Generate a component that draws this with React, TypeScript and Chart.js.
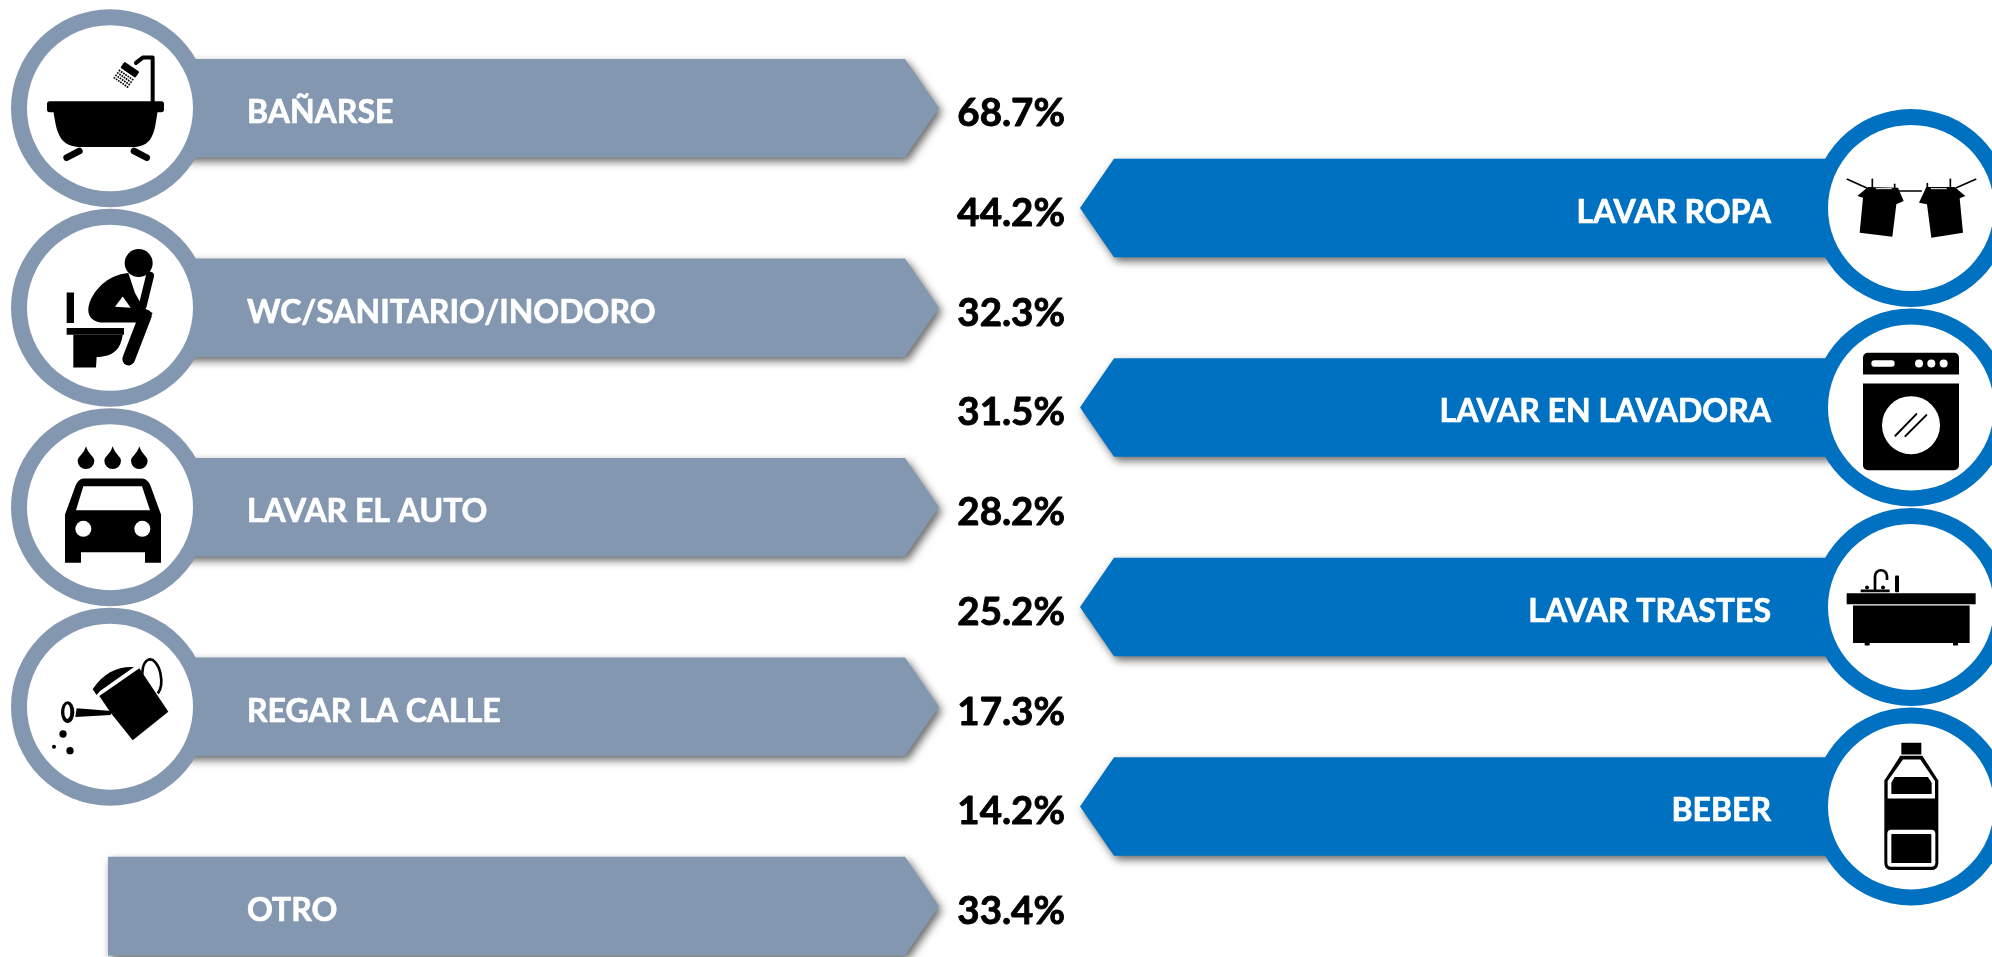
import React, { useEffect, useRef } from "react";
import { Chart, registerables } from "chart.js";

Chart.register(...registerables);

const categories = ["BAÑARSE", "LAVAR ROPA", "WC/SANITARIO/INODORO", "LAVAR EN LAVADORA", "LAVAR EL AUTO", "LAVAR TRASTES", "REGAR LA CALLE", "BEBER", "OTRO"];
const percentages = ["68.7%", "44.2%", "32.3%", "31.5%", "28.2%", "25.2%", "17.3%", "14.2%", "33.4%"];
const sides = ["left", "right", "left", "right", "left", "right", "left", "right", "left"];
const icons = ["tub", "clothes", "toilet", "washer", "car", "sink", "can", "bottle", ""];

const LEFT_SPAN = [108, 939];
const RIGHT_SPAN = [1080, 1911];
const GREY = "#8497B0";
const BLUE = "#0070C0";
const FONT = "Lato, 'Noto Sans', sans-serif";

type Ctx = CanvasRenderingContext2D;

function poly(ctx: Ctx, pts: number[][], color = "#000") {
  ctx.fillStyle = color;
  ctx.beginPath();
  pts.forEach((p, i) => (i ? ctx.lineTo(p[0], p[1]) : ctx.moveTo(p[0], p[1])));
  ctx.closePath();
  ctx.fill();
}
function line(ctx: Ctx, pts: number[][], w: number, color = "#000") {
  ctx.strokeStyle = color;
  ctx.lineWidth = w;
  ctx.lineCap = "round";
  ctx.lineJoin = "round";
  ctx.beginPath();
  pts.forEach((p, i) => (i ? ctx.lineTo(p[0], p[1]) : ctx.moveTo(p[0], p[1])));
  ctx.stroke();
}
function disc(ctx: Ctx, x: number, y: number, r: number, color = "#000") {
  ctx.fillStyle = color;
  ctx.beginPath();
  ctx.arc(x, y, r, 0, Math.PI * 2);
  ctx.fill();
}
function rrect(ctx: Ctx, x: number, y: number, w: number, h: number, r: number | number[], color = "#000") {
  ctx.fillStyle = color;
  ctx.beginPath();
  ctx.roundRect(x, y, w, h, r);
  ctx.fill();
}
function drop(ctx: Ctx, x: number, top: number, r: number) {
  ctx.fillStyle = "#000";
  ctx.beginPath();
  ctx.moveTo(x, top);
  ctx.bezierCurveTo(x + r * 0.3, top + r, x + r, top + r * 1.2, x + r, top + r * 1.75);
  ctx.arc(x, top + r * 1.75, r, 0, Math.PI);
  ctx.bezierCurveTo(x - r, top + r * 1.2, x - r * 0.3, top + r, x, top);
  ctx.fill();
}

// Icon artwork, each in a 3x local space with its own origin (ox, oy).
const iconArt: Record<string, { ox: number; oy: number; draw: (c: Ctx) => void }> = {
  tub: {
    ox: 330, oy: 328,
    draw(c) {
      rrect(c, 141, 307, 351, 33, 8);
      c.fillStyle = "#000";
      c.beginPath();
      c.moveTo(160, 335);
      c.bezierCurveTo(168, 390, 175, 442, 235, 444);
      c.lineTo(405, 444);
      c.bezierCurveTo(462, 442, 465, 390, 473, 335);
      c.closePath();
      c.fill();
      line(c, [[238, 456], [200, 476]], 20);
      line(c, [[402, 456], [440, 476]], 20);
      line(c, [[458, 310], [458, 176], [428, 176], [408, 192]], 12);
      c.lineCap = "butt";
      c.save();
      c.translate(388, 215);
      c.rotate(Math.PI / 5.2);
      rrect(c, -27, -14, 54, 22, 3);
      for (let i = -3; i <= 3; i++) {
        for (let j = 0; j < 4; j++) {
          c.fillStyle = "#000";
          c.fillRect(i * 8 - 3, 14 + j * 9, 5, 5);
        }
      }
      c.restore();
    },
  },
  toilet: {
    ox: 330, oy: 924,
    draw(c) {
      disc(c, 416, 790, 42);
      rrect(c, 200, 878, 22, 92, 1);
      rrect(c, 200, 985, 172, 20, 1);
      c.fillStyle = "#000";
      c.beginPath();
      c.moveTo(220, 1005);
      c.lineTo(368, 1005);
      c.bezierCurveTo(362, 1050, 340, 1070, 290, 1072);
      c.lineTo(288, 1103);
      c.lineTo(220, 1103);
      c.closePath();
      c.fill();
      // torso and thigh
      c.beginPath();
      c.moveTo(385, 820);
      c.bezierCurveTo(330, 825, 290, 860, 270, 905);
      c.bezierCurveTo(255, 945, 275, 968, 310, 968);
      c.lineTo(440, 968);
      c.lineTo(458, 940);
      c.lineTo(430, 925);
      c.lineTo(405, 880);
      c.closePath();
      c.fill();
      // forearm
      line(c, [[428, 918], [450, 828]], 24);
      // shin
      line(c, [[436, 948], [386, 1078]], 38);
      // gaps between limbs
      poly(c, [[368, 890], [392, 924], [345, 921]], "#fff");
      poly(c, [[398, 840], [413, 880], [418, 856]], "#fff");
    },
  },
  car: {
    ox: 330, oy: 333,
    draw(c) {
      drop(c, 258, 150, 25);
      drop(c, 338, 150, 25);
      drop(c, 418, 150, 25);
      c.fillStyle = "#000";
      c.beginPath();
      c.moveTo(250, 247);
      c.lineTo(428, 247);
      c.quadraticCurveTo(445, 250, 452, 270);
      c.lineTo(483, 355);
      c.lineTo(483, 500);
      c.lineTo(435, 500);
      c.lineTo(435, 468);
      c.lineTo(243, 468);
      c.lineTo(243, 500);
      c.lineTo(195, 500);
      c.lineTo(195, 355);
      c.lineTo(226, 270);
      c.quadraticCurveTo(233, 250, 250, 247);
      c.closePath();
      c.fill();
      poly(c, [[250, 270], [426, 270], [450, 342], [228, 342]], "#fff");
      disc(c, 250, 398, 24, "#fff");
      disc(c, 427, 398, 24, "#fff");
    },
  },
  can: {
    ox: 330, oy: 927,
    draw(c) {
      poly(c, [[298, 895], [418, 812], [505, 942], [398, 1028], [332, 945]]);
      c.fillStyle = "#000";
      c.beginPath();
      c.moveTo(278, 875);
      c.bezierCurveTo(310, 825, 355, 805, 402, 808);
      c.lineTo(300, 880);
      c.lineTo(290, 892);
      c.closePath();
      c.fill();
      c.strokeStyle = "#000";
      c.lineWidth = 8;
      c.beginPath();
      c.ellipse(455, 840, 28, 55, -0.12, Math.PI * 0.95, Math.PI * 2.35);
      c.stroke();
      poly(c, [[335, 940], [230, 932], [226, 958], [332, 952]]);
      c.save();
      c.translate(203, 944);
      c.fillStyle = "#000";
      c.beginPath();
      c.ellipse(0, 0, 20, 33, 0, 0, Math.PI * 2);
      c.fill();
      c.fillStyle = "#fff";
      c.beginPath();
      c.ellipse(-1, -2, 9, 22, 0, 0, Math.PI * 2);
      c.fill();
      c.restore();
      disc(c, 189, 1009, 11);
      disc(c, 210, 1059, 11);
      disc(c, 162, 1047, 6);
    },
  },
  clothes: {
    ox: 394, oy: 351,
    draw(c) {
      line(c, [[203, 265], [260, 290]], 5);
      line(c, [[360, 300], [425, 300]], 5);
      line(c, [[530, 290], [588, 265]], 5);
      poly(c, [[265, 288], [355, 290], [372, 330], [350, 340], [338, 437], [240, 425], [250, 320], [233, 315]]);
      poly(c, [[440, 288], [525, 288], [557, 315], [540, 322], [550, 425], [455, 440], [442, 340], [418, 335]]);
      line(c, [[278, 265], [278, 296]], 5);
      line(c, [[345, 280], [345, 298]], 5);
      line(c, [[443, 278], [443, 298]], 5);
      line(c, [[512, 265], [512, 296]], 5);
      line(c, [[290, 293], [335, 293]], 3, "#fff");
      line(c, [[455, 293], [500, 293]], 3, "#fff");
    },
  },
  washer: {
    ox: 394, oy: 952,
    draw(c) {
      rrect(c, 250, 788, 288, 65, [14, 14, 0, 0]);
      rrect(c, 275, 810, 70, 20, 9, "#fff");
      disc(c, 418, 820, 12, "#fff");
      disc(c, 455, 820, 12, "#fff");
      disc(c, 492, 820, 12, "#fff");
      rrect(c, 250, 880, 288, 260, [0, 0, 15, 15]);
      disc(c, 394, 1005, 87, "#fff");
      line(c, [[347, 1037], [410, 972]], 6);
      line(c, [[377, 1038], [440, 975]], 6);
    },
  },
  sink: {
    ox: 394, oy: 324,
    draw(c) {
      rrect(c, 201, 283, 387, 33, 0);
      rrect(c, 220, 320, 350, 112, 0);
      rrect(c, 255, 430, 15, 10, 2);
      rrect(c, 520, 430, 15, 10, 2);
      rrect(c, 243, 272, 87, 8, 1);
      disc(c, 262, 266, 6);
      disc(c, 310, 266, 6);
      c.strokeStyle = "#000";
      c.lineWidth = 8;
      c.lineCap = "butt";
      c.beginPath();
      c.moveTo(286, 275);
      c.lineTo(286, 232);
      c.arc(304, 232, 18, Math.PI, 0);
      c.lineTo(322, 243);
      c.stroke();
      rrect(c, 346, 230, 12, 50, 3);
    },
  },
  bottle: {
    ox: 394, oy: 926,
    draw(c) {
      rrect(c, 365, 735, 60, 35, 1);
      c.fillStyle = "#000";
      c.beginPath();
      c.moveTo(362, 774);
      c.lineTo(428, 774);
      c.lineTo(476, 848);
      c.lineTo(476, 1095);
      c.quadraticCurveTo(476, 1117, 454, 1117);
      c.lineTo(336, 1117);
      c.quadraticCurveTo(314, 1117, 314, 1095);
      c.lineTo(314, 848);
      c.closePath();
      c.fill();
      poly(c, [[370, 785], [422, 785], [466, 850], [466, 902], [324, 902], [324, 850]], "#fff");
      poly(c, [[345, 838], [445, 838], [456, 855], [456, 889], [335, 889], [335, 855]]);
      rrect(c, 323, 996, 144, 111, 12, "#fff");
      rrect(c, 335, 1009, 120, 87, 2);
    },
  },
};

function heavyText(ctx: Ctx, text: string, x: number, y: number, color: string, w: number) {
  ctx.fillStyle = color;
  ctx.strokeStyle = color;
  ctx.lineWidth = w;
  ctx.lineJoin = "round";
  ctx.fillText(text, x, y);
  ctx.strokeText(text, x, y);
}

const infographic = {
  id: "infographic",
  beforeDatasetDraw(chart: any) {
    const ctx: Ctx = chart.ctx;
    const meta = chart.getDatasetMeta(0);
    const bg = chart.data.datasets[0].backgroundColor as string[];

    // Arrow-shaped bars
    meta.data.forEach((el: any, i: number) => {
      const { x, y, base, height } = el.getProps(["x", "y", "base", "height"], true);
      const t = y - height / 2;
      const b = y + height / 2;
      ctx.save();
      ctx.shadowColor = "rgba(0,0,0,0.6)";
      ctx.shadowBlur = 8;
      ctx.shadowOffsetX = 3;
      ctx.shadowOffsetY = 4;
      ctx.fillStyle = bg[i];
      ctx.beginPath();
      if (sides[i] === "left") {
        ctx.moveTo(base, t);
        ctx.lineTo(x - 34, t);
        ctx.lineTo(x, y);
        ctx.lineTo(x - 34, b);
        ctx.lineTo(base, b);
      } else {
        ctx.moveTo(x, t);
        ctx.lineTo(base + 34, t);
        ctx.lineTo(base, y);
        ctx.lineTo(base + 34, b);
        ctx.lineTo(x, b);
      }
      ctx.closePath();
      ctx.fill();
      ctx.restore();
    });

    // Circles with icons
    meta.data.forEach((el: any, i: number) => {
      if (!icons[i]) return;
      const { x, y, base } = el.getProps(["x", "y", "base"], true);
      const cx = sides[i] === "left" ? base + 2 : x;
      disc(ctx, cx, y, 99, bg[i]);
      disc(ctx, cx, y, 83, "#fff");
      const art = iconArt[icons[i]];
      ctx.save();
      ctx.translate(cx, y);
      ctx.scale(1 / 3, 1 / 3);
      ctx.translate(-art.ox, -art.oy);
      art.draw(ctx);
      ctx.restore();
    });

    // Texts
    meta.data.forEach((el: any, i: number) => {
      const { x, y, base } = el.getProps(["x", "y", "base"], true);
      ctx.save();
      ctx.font = `bold 32px ${FONT}`;
      ctx.textBaseline = "alphabetic";
      if (sides[i] === "left") {
        ctx.textAlign = "left";
        heavyText(ctx, chart.data.labels[i], base + 139, y + 15, "#fff", 0.7);
      } else {
        ctx.textAlign = "right";
        heavyText(ctx, chart.data.labels[i], x - 140, y + 15, "#fff", 0.7);
      }
      ctx.font = `bold 38.5px ${FONT}`;
      ctx.textAlign = "right";
      heavyText(ctx, percentages[i], 1065, y + 18, "#000", 0.9);
      ctx.restore();
    });
    return false;
  },
};

export default function App() {
  const ref = useRef<HTMLCanvasElement>(null);
  useEffect(() => {
    document.body.style.margin = "0";
    const chart = new Chart(ref.current!, {
      type: "bar",
      data: {
        labels: categories,
        datasets: [
          {
            data: sides.map((s) => (s === "left" ? LEFT_SPAN : RIGHT_SPAN)) as any,
            backgroundColor: sides.map((s) => (s === "left" ? GREY : BLUE)),
            barPercentage: 1,
            categoryPercentage: 0.988,
          },
        ],
      },
      options: {
        indexAxis: "y",
        responsive: false,
        animation: false,
        layout: { padding: { top: 58.4, bottom: 1, left: 0, right: 0 } },
        plugins: { legend: { display: false }, title: { display: false }, tooltip: { enabled: false } },
        scales: {
          x: { type: "linear", min: 0, max: 1992, display: false },
          y: { type: "category", display: false },
        },
      },
      plugins: [infographic],
    } as any);
    return () => chart.destroy();
  }, []);
  return <canvas ref={ref} width={1992} height={957} style={{ display: "block" }} />;
}
